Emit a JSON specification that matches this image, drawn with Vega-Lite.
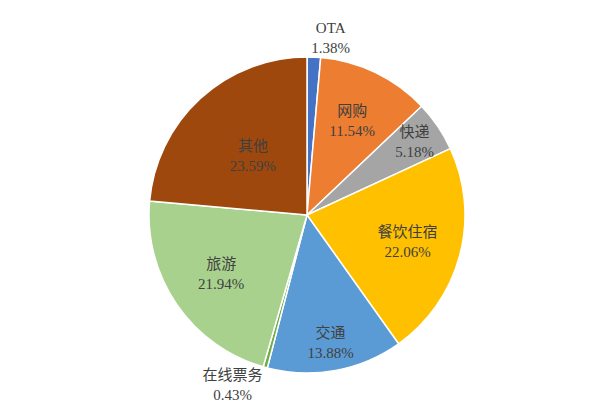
{
  "$schema": "https://vega.github.io/schema/vega-lite/v6.json",
  "autosize": {"type": "none"},
  "padding": {"left": 14, "top": 16, "right": 0, "bottom": 0},
  "width": 586,
  "height": 398,
  "background": "white",
  "view": {"stroke": null},
  "config": {
    "text": {
      "font": "Liberation Serif, Noto Sans CJK SC",
      "fontSize": 15,
      "lineBreak": "\n",
      "lineHeight": 20,
      "color": "#404040",
      "align": "center",
      "baseline": "middle",
      "dy": -10
    }
  },
  "data": {
    "values": [
      {"i": 1, "cat": "OTA", "share": 1.38},
      {"i": 2, "cat": "网购", "share": 11.54},
      {"i": 3, "cat": "快递", "share": 5.18},
      {"i": 4, "cat": "餐饮住宿", "share": 22.06},
      {"i": 5, "cat": "交通", "share": 13.88},
      {"i": 6, "cat": "在线票务", "share": 0.43},
      {"i": 7, "cat": "旅游", "share": 21.94},
      {"i": 8, "cat": "其他", "share": 23.59}
    ]
  },
  "transform": [
    {"calculate": "datum.cat + '\\n' + format(datum.share, '.2f') + '%'", "as": "label"}
  ],
  "encoding": {
    "theta": {"field": "share", "type": "quantitative", "stack": true},
    "order": {"field": "i", "type": "quantitative"}
  },
  "layer": [
    {
      "mark": {"type": "arc", "outerRadius": 158, "stroke": "white", "strokeWidth": 1.5},
      "encoding": {
        "color": {
          "field": "cat",
          "type": "nominal",
          "legend": null,
          "scale": {
            "domain": ["OTA", "网购", "快递", "餐饮住宿", "交通", "在线票务", "旅游", "其他"],
            "range": ["#4472C4", "#ED7D31", "#A5A5A5", "#FFC000", "#5B9BD5", "#70AD47", "#A9D18E", "#9E480E"]
          }
        }
      }
    },
    {
      "mark": {"type": "text", "radius": 104},
      "encoding": {
        "text": {"condition": {"test": "datum.cat == '网购' || datum.cat == '餐饮住宿' || datum.cat == '旅游'", "field": "label"}, "value": ""}
      }
    },
    {
      "mark": {"type": "text", "radius": 130},
      "encoding": {
        "text": {"condition": {"test": "datum.cat == '快递' || datum.cat == '交通'", "field": "label"}, "value": ""}
      }
    },
    {
      "mark": {"type": "text", "radius": 80},
      "encoding": {
        "text": {"condition": {"test": "datum.cat == '其他'", "field": "label"}, "value": ""}
      }
    },
    {
      "mark": {"type": "text", "radius": 177, "dx": 16},
      "encoding": {
        "text": {"condition": {"test": "datum.cat == 'OTA'", "field": "label"}, "value": ""}
      }
    },
    {
      "mark": {"type": "text", "radius": 176, "dx": -28},
      "encoding": {
        "text": {"condition": {"test": "datum.cat == '在线票务'", "field": "label"}, "value": ""}
      }
    }
  ]
}
